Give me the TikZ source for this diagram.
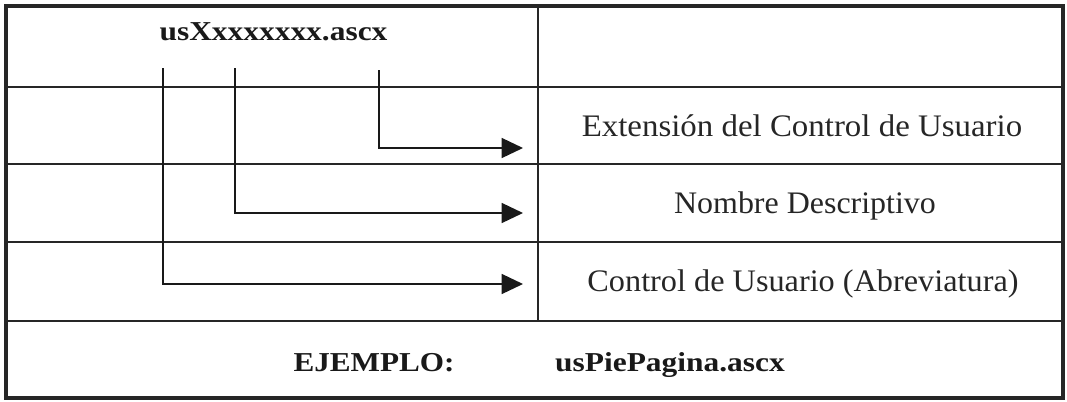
\documentclass[tikz,border=0pt]{standalone}
\usepackage{fontspec}
\setmainfont{Liberation Serif}
\usepackage{graphicx}
\usetikzlibrary{arrows.meta}
\begin{document}
\begin{tikzpicture}[x=0.75pt,y=-0.75pt,
  grid/.style={line width=1.2pt, draw=black!85},
  frame/.style={line width=2.3pt, draw=black!85},
  conn/.style={line width=1.1pt, draw=black!90, -{Triangle[length=16pt,width=15pt]}},
  lbl/.style={font=\fontsize{23.5}{28}\selectfont, anchor=base, inner sep=0pt, text=black!85},
  bld/.style={font=\fontsize{20.5}{25}\selectfont\bfseries, anchor=base, inner sep=0pt, text=black!90}]
\useasboundingbox (0,0) rectangle (1067,401);
% grid
\draw[grid] (6,87) -- (1063,87);
\draw[grid] (6,164) -- (1063,164);
\draw[grid] (6,242) -- (1063,242);
\draw[grid] (6,321) -- (1063,321);
\draw[grid] (538,6) -- (538,321);
\draw[frame] (6,6) rectangle (1063,398);
% texts
\node[bld] (fname) at (273.5,40) {\scalebox{1.15}[1]{usXxxxxxxx.ascx}};
\node[bld] (ej) at (374,371) {\scalebox{1.14}[1]{EJEMPLO:}};
\node[bld] (ejv) at (670,371) {\scalebox{1.15}[1]{usPiePagina.ascx}};
\node[lbl] (ext) at (802,136) {\scalebox{1.05}[1]{Extensión del Control de Usuario}};
\node[lbl] (nom) at (805,213) {\scalebox{1.02}[1]{Nombre Descriptivo}};
\node[lbl] (ctl) at (803,291) {\scalebox{1.03}[1]{Control de Usuario (Abreviatura)}};
% connector endpoints
\coordinate (s1) at (379,70);
\coordinate (s2) at (235,68);
\coordinate (s3) at (163,68);
\coordinate (t1) at (523,148);
\coordinate (t2) at (523,213);
\coordinate (t3) at (523,284);
\draw[conn] (s1) |- (t1);
\draw[conn] (s2) |- (t2);
\draw[conn] (s3) |- (t3);
\end{tikzpicture}
\end{document}
